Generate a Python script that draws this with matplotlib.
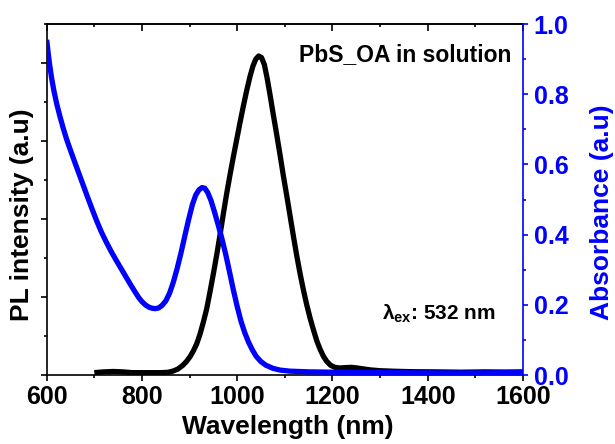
import matplotlib
matplotlib.use("Agg")
import matplotlib.pyplot as plt
from matplotlib.ticker import MultipleLocator, NullFormatter, FormatStrFormatter

plt.rcParams['font.family'] = ['Liberation Sans', 'DejaVu Sans']
plt.rcParams['font.weight'] = 'bold'
plt.rcParams['mathtext.fontset'] = 'custom'
plt.rcParams['mathtext.rm'] = 'Liberation Sans:bold'
plt.rcParams['mathtext.it'] = 'Liberation Sans:bold'
plt.rcParams['mathtext.bf'] = 'Liberation Sans:bold'

# Photoluminescence spectrum (arbitrary units)
pl_wavelength = [700, 720, 740, 760, 780, 800, 820, 840, 855, 865, 875, 885, 893,
                 901, 908, 915, 922, 929, 936, 943, 950, 957, 964, 971, 978, 985,
                 992, 999, 1006, 1013, 1020, 1027, 1033, 1039, 1045, 1051, 1057,
                 1063, 1069, 1076, 1083, 1090, 1097, 1104, 1111, 1118, 1125, 1132,
                 1139, 1146, 1153, 1160, 1167, 1174, 1181, 1188, 1196, 1205, 1215,
                 1228, 1240, 1252, 1265, 1280, 1300, 1330, 1370, 1420, 1470, 1520,
                 1560, 1600]
pl_intensity = [0.03, 0.04, 0.045, 0.04, 0.03, 0.03, 0.03, 0.03, 0.035, 0.05,
                0.075, 0.12, 0.17, 0.235, 0.31, 0.40, 0.525, 0.68, 0.85, 1.07,
                1.30, 1.54, 1.80, 2.07, 2.33, 2.57, 2.80, 3.02, 3.24, 3.45, 3.65,
                3.83, 3.96, 4.05, 4.09, 4.07, 3.98, 3.80, 3.59, 3.33, 3.08, 2.82,
                2.55, 2.30, 2.04, 1.78, 1.53, 1.30, 1.09, 0.90, 0.73, 0.58, 0.44,
                0.33, 0.24, 0.175, 0.125, 0.098, 0.09, 0.095, 0.098, 0.09, 0.078,
                0.065, 0.055, 0.048, 0.042, 0.04, 0.036, 0.04, 0.038, 0.04]

# Absorbance spectrum
abs_wavelength = [600, 603, 606, 610, 615, 621, 628, 635, 642, 650, 658, 665, 675,
                  685, 695, 705, 715, 725, 735, 745, 755, 765, 775, 785, 793, 800,
                  808, 815, 822, 828, 835, 842, 850, 858, 866, 874, 882, 890, 898,
                  906, 913, 920, 926, 932, 938, 945, 952, 960, 968, 976, 984, 992,
                  1000, 1008, 1016, 1024, 1032, 1040, 1050, 1060, 1075, 1090, 1110,
                  1150, 1200, 1300, 1400, 1500, 1600]
absorbance = [0.955, 0.919, 0.886, 0.849, 0.811, 0.773, 0.736, 0.702, 0.671, 0.640,
              0.610, 0.584, 0.547, 0.510, 0.474, 0.439, 0.407, 0.379, 0.353, 0.329,
              0.306, 0.283, 0.260, 0.238, 0.221, 0.209, 0.199, 0.193, 0.190, 0.189,
              0.191, 0.198, 0.211, 0.233, 0.265, 0.304, 0.348, 0.396, 0.443, 0.486,
              0.513, 0.528, 0.534, 0.532, 0.520, 0.497, 0.466, 0.428, 0.388, 0.343,
              0.293, 0.242, 0.195, 0.153, 0.120, 0.093, 0.071, 0.053, 0.038, 0.028,
              0.019, 0.014, 0.011, 0.009, 0.008, 0.007, 0.006, 0.006, 0.007]

x_ticks = [600, 800, 1000, 1200, 1400, 1600]
abs_ticks = [0.0, 0.2, 0.4, 0.6, 0.8, 1.0]

BLUE = '#0000ff'

fig = plt.figure(figsize=(6.15, 4.44), dpi=100)
ax = fig.add_axes([0.0759, 0.1554, 0.7745, 0.7905])

ax.plot(pl_wavelength, pl_intensity, color='black', lw=3.8,
        solid_joinstyle='round', solid_capstyle='butt')
ax.set_xlim(600, 1600)
ax.set_ylim(0, 4.5)
ax.set_xticks(x_ticks)
ax.xaxis.set_minor_locator(MultipleLocator(100))
ax.yaxis.set_major_locator(MultipleLocator(1))
ax.yaxis.set_minor_locator(MultipleLocator(0.5))
ax.yaxis.set_major_formatter(NullFormatter())
ax.tick_params(which='major', direction='out', length=4.5, width=1.2, labelsize=18, pad=3)
ax.tick_params(which='minor', direction='out', length=2.3, width=1.2)
for side in ('left', 'bottom', 'top'):
    ax.spines[side].set_linewidth(1.2)
ax.spines['right'].set_visible(False)

# inward ticks along the top edge
top = ax.secondary_xaxis('top')
top.set_xticks(x_ticks)
top.xaxis.set_minor_locator(MultipleLocator(100))
top.xaxis.set_major_formatter(NullFormatter())
top.tick_params(which='major', direction='in', length=4.8, width=1.2)
top.tick_params(which='minor', direction='in', length=2.4, width=1.2)
top.spines['top'].set_linewidth(1.2)

ax.set_xlabel('Wavelength (nm)', fontsize=19, fontweight='bold')
ax.set_ylabel('PL intensity (a.u)', fontsize=19, fontweight='bold')
ax.xaxis.label.set(va='center')
ax.xaxis.set_label_coords(0.5056, -0.148)
ax.yaxis.label.set(va='center', ha='center', rotation_mode='default')
ax.yaxis.set_label_coords(-0.0508, 0.457)

ax2 = ax.twinx()
ax2.plot(abs_wavelength, absorbance, color=BLUE, lw=3.8,
         solid_joinstyle='round', solid_capstyle='butt')
ax2.set_ylim(0, 1.0)
ax2.set_yticks(abs_ticks)
ax2.yaxis.set_minor_locator(MultipleLocator(0.1))
ax2.yaxis.set_major_formatter(FormatStrFormatter('%.1f'))
ax2.tick_params(which='major', direction='out', length=3.8, width=1.2, colors=BLUE,
                labelsize=18, pad=4)
ax2.tick_params(which='minor', direction='out', length=2.2, width=1.2, colors=BLUE)
for side in ('left', 'bottom', 'top'):
    ax2.spines[side].set_visible(False)
ax2.spines['right'].set_color(BLUE)
ax2.spines['right'].set_linewidth(1.2)
ax2.set_ylabel('Absorbance (a.u)', fontsize=19, fontweight='bold', color=BLUE)
ax2.yaxis.label.set(va='center', ha='center', rotation_mode='default')
ax2.yaxis.set_label_coords(1.166, 0.463)

ax2.text(0.976, 0.912, 'PbS_OA in solution', transform=ax2.transAxes,
         ha='right', va='center', fontsize=16.5, fontweight='bold')
ax2.text(0.7033, 0.1567, r'λ$_{\mathrm{ex}}$: 532 nm', transform=ax2.transAxes,
         ha='left', va='baseline', fontsize=15, fontweight='bold')

fig.savefig('out.png', dpi=100)
